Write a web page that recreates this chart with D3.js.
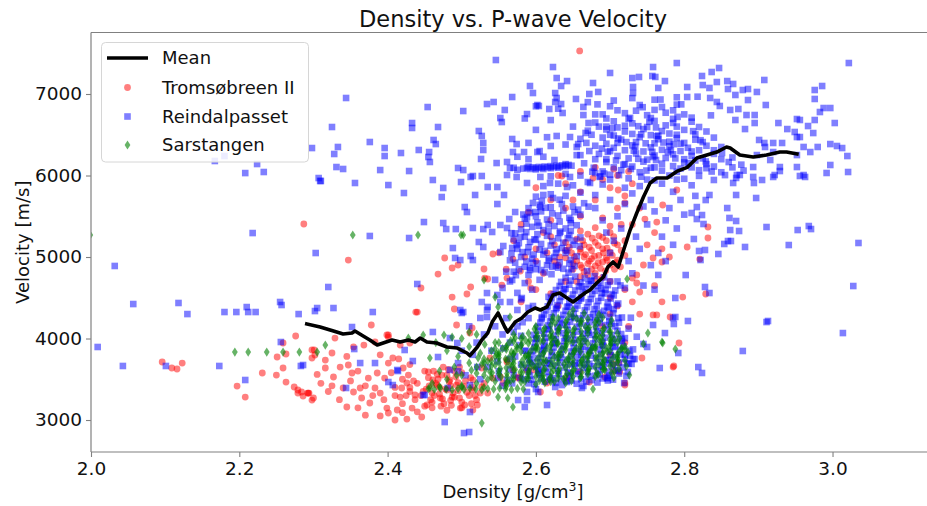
<!DOCTYPE html>
<html><head><meta charset="utf-8">
<script src="https://cdn.jsdelivr.net/npm/d3@7"></script>
<style>body{margin:0;background:#fff}svg{display:block;font-family:"DejaVu Sans",sans-serif}</style>
</head><body>
<script>
// ---------- DATA (density g/cm3, velocity m/s) ----------
const xTicks = [2.0, 2.2, 2.4, 2.6, 2.8, 3.0];
const yTicks = [3000, 4000, 5000, 6000, 7000];
const seriesNames = ["Mean", "Tromsøbreen II", "Reindalpasset", "Sarstangen"];

const meanLine = [[2.291,4178],[2.309,4141],[2.327,4092],[2.34,4055],[2.352,4067],[2.356,4092],[2.367,4031],[2.376,3982],[2.386,3920],[2.394,3945],[2.406,3982],[2.417,3957],[2.428,3982],[2.437,3957],[2.444,4006],[2.453,3957],[2.466,3945],[2.48,3896],[2.494,3883],[2.507,3822],[2.511,3790],[2.521,3896],[2.527,3982],[2.535,4067],[2.541,4202],[2.549,4313],[2.558,4141],[2.562,4080],[2.572,4202],[2.581,4252],[2.589,4325],[2.599,4374],[2.606,4350],[2.615,4387],[2.623,4534],[2.632,4558],[2.642,4497],[2.65,4448],[2.659,4509],[2.666,4558],[2.673,4595],[2.682,4681],[2.691,4755],[2.697,4877],[2.704,4939],[2.711,4877],[2.717,5049],[2.727,5331],[2.736,5540],[2.745,5736],[2.754,5908],[2.763,5970],[2.777,5969],[2.79,6050],[2.804,6100],[2.817,6215],[2.844,6288],[2.857,6350],[2.862,6337],[2.875,6251],[2.893,6227],[2.911,6251],[2.929,6288],[2.938,6288],[2.952,6264]];

const tromsoOutlying = [[2.659,7528],[2.287,5405],[2.347,4963],[2.096,3712],[2.109,3638],[2.116,3626],[2.123,3699],[2.197,3417],[2.208,3282],[2.231,3577],[2.25,3552],[2.251,3773],[2.259,3638],[2.259,3945],[2.263,3810],[2.263,3466],[2.276,4031],[2.274,3405],[2.279,3368],[2.279,3331],[2.286,3294],[2.292,3331],[2.294,3331],[2.298,3245],[2.298,3761],[2.301,3859],
[2.378,4166],[2.329,4006],[2.354,3896],[2.368,3920],[2.383,3957],[2.401,4043],[2.438,4325],[2.468,4791],[2.477,4988],[2.487,4865],[2.495,4902],[2.445,4620],[2.487,4509],[2.49,4362],[2.507,4546],[2.512,4632],[2.531,4742],[2.53,4853],[2.542,5037],[2.535,4730],[2.554,4656],[2.561,4742],[2.579,4828],[2.569,4975],[2.593,4620],[2.514,4129],[2.493,4166],[2.511,4067],
[2.711,5822],[2.72,5663],[2.747,5466],[2.763,5429],[2.771,5638],[2.79,5822],[2.832,5368],[2.832,5233],[2.804,5123],[2.821,4975],[2.77,4939],[2.758,4988],[2.745,4902],[2.736,4779],[2.73,4742],[2.736,4681],[2.74,4571],[2.798,4509],[2.829,4546],[2.763,4289],[2.781,4264],[2.793,3945],
[2.743,3761],[2.786,3663],[2.712,3699],[2.704,3687],[2.705,3601],[2.713,3589],[2.693,3528],[2.72,3454],[2.758,4289],[2.785,3650],[2.72,3429],[2.672,3466],[2.44,4325],[2.399,4043],
[2.538,3761],[2.561,3736],[2.588,3614],[2.576,3515],[2.615,3454],[2.642,3515],[2.659,3589],[2.632,3331],[2.606,3344]];

const tromsoLowCloud = [[2.298,3859],[2.302,3798],[2.316,3736],[2.325,3822],[2.316,3638],[2.327,3528],[2.336,3650],[2.347,3675],[2.352,3577],[2.34,3393],[2.354,3344],[2.363,3393],[2.345,3160],[2.365,3270],[2.376,3209],[2.374,3515],[2.386,3577],[2.383,3393],[2.39,3331],[2.396,3515],[2.401,3699],[2.399,3147],[2.401,3086],[2.413,3123],[2.417,3282],[2.419,3393],[2.426,3454],[2.421,3638],[2.428,3552],[2.426,3012],[2.433,3147],[2.437,3307],[2.446,3037],[2.453,3184],[2.455,3589],[2.46,3331],[2.461,3491],[2.466,3429],[2.471,3270],[2.473,3552],[2.48,3368],[2.487,3282],[2.484,3491],[2.493,3429],[2.498,3147],[2.504,3184],[2.515,3123],[2.521,3184],[2.514,3368],[2.515,3491],[2.527,3405],[2.527,3638],[2.535,3331],[2.542,3515],[2.552,3528],[2.556,3454],[2.569,3614],[2.561,3712],[2.576,3528],[2.596,3614],[2.407,3761],[2.401,4018],[2.417,3920],[2.43,3945],[2.293,3331],[2.30,3270],[2.284,3344],
[2.31,3450],[2.32,3350],[2.335,3250],[2.35,3480],[2.36,3600],[2.37,3420],[2.38,3300],[2.395,3250],[2.405,3580],[2.41,3400],[2.42,3200],[2.43,3350],[2.44,3100],[2.435,3480],[2.36,3150],[2.37,3060],[2.39,3050],[2.41,3000],[2.42,3090],[2.345,3780],[2.39,3800],[2.415,3750],[2.43,3680],[2.325,3420],[2.305,3560],
[2.445,3300],[2.452,3380],[2.458,3250],[2.465,3450],[2.47,3320],[2.476,3200],[2.48,3550],[2.485,3420],[2.49,3280],[2.495,3360],[2.5,3220],[2.505,3480],[2.51,3300],[2.455,3520],[2.462,3600],[2.475,3650],[2.49,3600],[2.5,3580],[2.515,3400],[2.52,3250],[2.46,3150],[2.48,3120],[2.47,3400],[2.495,3460],[2.485,3240],[2.44,3450],[2.45,3170],
[2.448,3350],[2.456,3420],[2.463,3300],[2.468,3500],[2.474,3260],[2.478,3380],[2.483,3470],[2.488,3330],[2.492,3530],[2.497,3270],[2.503,3410],[2.507,3340],[2.512,3520],[2.518,3300],[2.46,3220],[2.472,3170],[2.486,3180],[2.5,3150],[2.513,3200],[2.525,3330],[2.53,3450],[2.45,3600],[2.467,3560],[2.482,3620],[2.497,3650],[2.43,3400],[2.437,3250],[2.425,3300],[2.42,3500],[2.41,3300]];

const tromsoCluster = [[2.655,4950],[2.665,5000],[2.675,4980],[2.685,5020],[2.695,4990],[2.67,4920],[2.68,4890],[2.69,4940],[2.66,5060],[2.675,5080],[2.69,5100],[2.70,5060],[2.665,5150],[2.68,5180],[2.695,5200],[2.71,5150],[2.65,4850],[2.665,4820],[2.7,4900],[2.71,4960],[2.72,5020],[2.685,5260],[2.67,5280],[2.7,5300],[2.645,5120],[2.64,4990],[2.63,4900],[2.655,5220],[2.72,5200],[2.715,5400],[2.68,4800],[2.69,4750],[2.7,4700],[2.66,4760],[2.64,4700],
[2.66,4900],[2.672,4950],[2.684,4930],[2.696,4960],[2.708,4930],[2.652,5000],[2.667,5030],[2.679,5010],[2.691,5050],[2.703,5020],[2.715,5080],[2.66,5100],[2.672,5120],[2.684,5140],[2.696,5110],[2.706,5170],[2.676,5230],[2.69,5240],[2.663,5200],[2.705,5250],[2.648,5050],[2.687,4860],[2.675,4850],[2.662,4870],[2.694,4830],[2.706,4850],[2.714,4880],[2.65,4920],[2.64,5080],[2.632,5000],[2.625,4950],[2.66,5320],[2.68,5360],[2.7,5380],[2.64,5180],[2.625,5150],[2.615,5050],[2.67,4780],[2.682,4730],[2.655,4700],
[2.6,5100],[2.61,5300],[2.62,5450],[2.59,5550],[2.62,5700],[2.64,5600],[2.66,5500],[2.68,5700],[2.7,5850],[2.69,5950],[2.71,6000],[2.73,5900],[2.72,5750],[2.74,5600],[2.66,5800],[2.64,5900],[2.6,5850],[2.63,6000],[2.58,5400],[2.57,5200],[2.585,5000],[2.6,4950],[2.61,4800],[2.59,4700],[2.56,4850],[2.55,5050],[2.6,4600],[2.62,4550],[2.58,4450],[2.63,4400],[2.72,4600],[2.73,4450],[2.71,4400],[2.74,4300],[2.725,4150],[2.7,4500],[2.75,5150],[2.76,5300],[2.73,5400],[2.77,5100],[2.78,5000],[2.76,4650],[2.77,4450],[2.66,6050],[2.68,6100],[2.705,6080],[2.725,6050],[2.65,5700],[2.62,5250],[2.69,5480],[2.71,5600],[2.7,4300],[2.69,4150],[2.72,3950],[2.7,3800],[2.635,5994],[2.677,5969]];

const reinOutlying = [[2.009,3896],[2.043,3663],[2.101,3663],[2.173,3663],[2.208,3491],[2.256,3957],[2.283,3663],
[2.032,4890],[2.057,4423],[2.118,4436],[2.13,4300],[2.18,4325],[2.196,4325],[2.21,4386],[2.212,4325],[2.222,4325],[2.255,4448],[2.257,4411],[2.28,4300],[2.302,4337],[2.305,4374],
[2.218,5294],[2.303,5049],[2.208,6030],[2.233,6043],[2.167,6178],[2.18,6239],[2.224,6141],[2.298,6337],[2.307,5969],[2.309,5933],
[2.546,7417],[2.344,6951],[2.325,6595],[2.333,6350],[2.328,6264],[2.331,6104],[2.34,6080],[2.376,6411],[2.396,6337],[2.396,6239],[2.39,6067],[2.418,6276],[2.429,6055],[2.433,6644],[2.433,6583],[2.442,6313],[2.454,6840],[2.456,6288],[2.457,6166],[2.455,6227],[2.462,6436],[2.465,6386],[2.468,6595],[2.502,6791],[2.495,6092],[2.502,6067],[2.523,6546],[2.527,6485],[2.529,6399],[2.529,6313],[2.526,6203],[2.534,6877],[2.543,6902],[2.552,6705],[2.554,6656],[2.558,6804],[2.568,6963],[2.588,6754],[2.592,7098],[2.596,7012],[2.602,6865],[2.604,6853],[2.618,6816],[2.623,7331],[2.628,7196],[2.642,7159],[2.634,7098],[2.626,7012],[2.628,6951],[2.626,6902],[2.634,6877],[2.636,6767],[2.654,6939],[2.664,6841],[2.664,6742],[2.671,6644],[2.677,7135],[2.672,7000],[2.684,7025],[2.7,7258],
[2.568,6448],[2.574,6386],[2.569,6288],[2.584,6288],[2.602,6288],[2.62,6362],[2.628,6485],[2.646,6472],[2.657,6386],[2.547,6153],[2.561,6166],[2.565,6092],[2.515,5994],[2.527,5994],
[2.73,7196],[2.731,7086],[2.739,7209],[2.758,7331],[2.757,7221],[2.761,7209],[2.774,7159],[2.765,7074],[2.79,7380],[2.804,7086],[2.804,6963],[2.824,7221],[2.837,7270],[2.847,7319],[2.825,7110],[2.844,7147],[2.858,7159],[2.866,7123],[2.834,7074],[2.835,6951],[2.844,6902],[2.848,6853],[2.859,7061],[2.869,6988],[2.879,7049],[2.886,7061],[2.886,6926],[2.898,7025],[2.908,7172],[2.91,6865],[2.895,6742],[2.884,6742],[2.873,6816],[2.862,6804],[2.869,6681],[2.882,6570],[2.895,6644],[2.901,6436],[2.908,6399],[2.92,6399],[2.927,6644],[2.939,6570],[2.952,6693],[2.956,6681],[2.949,6534],[2.952,6472],[2.956,6472],[2.967,6607],[2.974,6521],[2.976,6681],[2.983,6779],[2.988,6828],[2.997,6828],[3.003,6644],[2.976,7049],[2.986,7098],[2.976,6939],[3.022,7380],[2.97,6288],[2.98,6350],[2.997,6386],[3.006,6362],[3.013,6337],[3.02,6239],[2.997,6129],[2.992,6031],[3.021,6043],[2.961,6350],[2.952,6251],[2.92,6288],[2.932,6399],[2.929,6104],[2.952,6104],[2.961,6006],[2.922,6006],[2.893,6104],[2.898,6251],[2.909,6350],[2.916,6190],
[2.871,6006],[2.875,6006],[2.893,5982],[2.894,5908],[2.905,5945],[2.92,5982],[2.929,6055],[2.956,5994],[2.963,5982],[2.866,5908],[2.87,5761],[2.897,5724],[2.911,5368],[2.953,5331],[2.968,5380],[2.971,5343],[2.941,5147],[3.035,5172],[3.028,4644],[3.014,4067],[2.911,4202],[2.913,4215],[2.858,5601],[2.861,5479],[2.87,5442],[2.862,5331],[2.874,5319],[2.859,5196],[2.863,5196],[2.854,5160],[2.882,5123],[2.846,5037],[2.834,5761],[2.829,5699],[2.817,5613],[2.81,5540],[2.824,5515],[2.817,5466],[2.826,5405],[2.813,5221],[2.82,5074],[2.828,5086],[2.822,4963],[2.802,4779],[2.828,4632],[2.834,4558],[2.788,4497],[2.788,4264],[2.805,4215],[2.786,4178],[2.774,4067],
[2.879,3847],[2.767,3638],[2.819,3650],[2.824,3577],[2.75,3896],[2.792,3822],[2.745,3933],[2.733,3748],[2.723,3699],[2.719,3454],[2.697,3515],
[2.477,2975],[2.503,2840],[2.51,2853],[2.511,3098],[2.585,3160],[2.588,3245],[2.615,3184],[2.576,3245],[2.635,3429],[2.662,3393],[2.664,3417],[2.696,3515],[2.731,3748],[2.758,4166],[2.785,4252],[2.461,4080],[2.423,3859],[2.413,3614],[2.401,3466],[2.407,3429],[2.434,3724],[2.448,3307],[2.481,3393],[2.498,4350],[2.535,4387],[2.534,4264],[2.525,4252],[2.484,4006],[2.494,3945],[2.468,3773],[2.484,3614],[2.495,3699],[2.521,3650],[2.511,3429],[2.549,3515],[2.561,3491],[2.579,3515],[2.588,3344],[2.603,3344],[2.626,3405],[2.642,3466],
[2.286,3675],[2.355,3871],[2.363,3699],[2.383,3699],[2.414,3601],[2.344,3393],[2.45,3307],
[2.31,5933],[2.356,5908],[2.401,5883],[2.422,5785],[2.461,5945],[2.475,5847],[2.473,5736],[2.499,5920],[2.512,5982],[2.518,5761],[2.535,5859],[2.548,5859],[2.557,5761],[2.548,5650],[2.504,5613],[2.507,5552],[2.449,5429],[2.376,5258],[2.429,5233],[2.475,5417],[2.479,5343],[2.492,5343],[2.515,5356],[2.529,5343],[2.535,5393],[2.552,5393],[2.541,5307],[2.523,5184],[2.529,5123],[2.488,5110],[2.491,4988],[2.498,4963],[2.512,5012],[2.515,4963],[2.32,4632],[2.44,4669],[2.327,4374],[2.38,4325],[2.352,4141],[2.5,4313],[2.502,4325],[2.534,4350],[2.534,4558],[2.548,4534],[2.552,4448],[2.565,4448],[2.527,4448],[2.581,4497],[2.592,4840],[2.596,4399],[2.568,4718],[2.556,5135],[2.552,5061],[2.568,5110],[2.574,5147],[2.579,5245],[2.561,5356],[2.564,5466],[2.572,5552],[2.588,5491],[2.599,5552],[2.596,5663],[2.606,5613],[2.61,5761],[2.623,5724],[2.619,5908],[2.606,5982],[2.574,5982],[2.561,6006],[2.588,5908],[2.642,5859],[2.646,5982],[2.673,5908],[2.686,5982],
[2.505,3550],[2.515,3800],[2.525,3500],[2.535,3650],[2.54,3850],[2.55,3600],[2.555,3420],[2.565,3750],[2.57,3550],[2.58,3680],[2.585,3850],[2.59,3450],[2.6,3380],[2.605,3580],[2.615,3700],[2.52,3950],[2.53,4050],[2.545,4150],[2.555,4050],[2.565,3950],[2.575,4150],[2.59,4250],[2.51,4150],[2.495,3600],[2.5,3850]];

const reinCore = [[2.598,3440],[2.612,3470],[2.627,3455],[2.641,3480],[2.655,3445],[2.668,3470],[2.683,3460],[2.697,3485],
[2.592,3545],[2.604,3560],[2.618,3530],[2.631,3570],[2.645,3540],[2.657,3565],[2.671,3535],[2.686,3560],[2.699,3545],[2.712,3570],
[2.587,3640],[2.6,3660],[2.613,3635],[2.626,3665],[2.639,3645],[2.652,3670],[2.665,3640],[2.678,3660],[2.691,3650],[2.704,3675],[2.717,3645],
[2.591,3745],[2.603,3760],[2.617,3735],[2.629,3765],[2.642,3740],[2.656,3770],[2.668,3745],[2.681,3760],[2.694,3735],[2.707,3770],[2.72,3750],
[2.596,3845],[2.609,3860],[2.622,3835],[2.635,3865],[2.648,3840],[2.661,3870],[2.673,3850],[2.686,3865],[2.7,3840],[2.713,3860],[2.726,3850],
[2.599,3945],[2.612,3960],[2.625,3940],[2.638,3970],[2.651,3945],[2.664,3965],[2.677,3940],[2.69,3960],[2.703,3950],[2.716,3970],
[2.597,4045],[2.611,4060],[2.624,4035],[2.637,4065],[2.65,4040],[2.663,4060],[2.676,4045],[2.689,4065],[2.702,4040],[2.715,4055],
[2.603,4145],[2.616,4160],[2.629,4140],[2.642,4165],[2.655,4145],[2.668,4160],[2.681,4140],[2.694,4165],[2.707,4150],
[2.608,4245],[2.621,4260],[2.634,4240],[2.647,4265],[2.66,4245],[2.673,4260],[2.686,4240],[2.699,4265],[2.711,4250],
[2.614,4345],[2.627,4360],[2.64,4340],[2.653,4365],[2.666,4345],[2.679,4360],[2.692,4340],[2.705,4360],
[2.619,4445],[2.632,4460],[2.645,4440],[2.658,4465],[2.671,4445],[2.684,4460],[2.697,4445],
[2.624,4545],[2.637,4560],[2.65,4540],[2.663,4565],[2.676,4545],[2.689,4560],[2.702,4545],
[2.632,4645],[2.645,4660],[2.658,4640],[2.671,4665],[2.684,4645],[2.697,4655],
[2.64,4745],[2.653,4760],[2.666,4740],[2.679,4765],[2.692,4750],
[2.565,3620],[2.572,3780],[2.578,3920],[2.57,4080],[2.582,4200],[2.575,4350],[2.584,3500],[2.568,3450],[2.58,4480],[2.556,3880],[2.548,3720],[2.56,4250],
[2.555,4620],[2.565,4700],[2.575,4560],[2.585,4680],[2.595,4600],[2.605,4720],[2.56,4820],[2.59,4780],[2.545,4720],
[2.594,3495],[2.607,3510],[2.62,3490],[2.634,3505],[2.648,3485],[2.661,3500],[2.675,3490],[2.69,3510],[2.704,3495],
[2.59,3595],[2.603,3610],[2.616,3590],[2.63,3605],[2.643,3585],[2.657,3600],[2.67,3590],[2.684,3610],[2.698,3595],[2.711,3605],[2.724,3590],
[2.592,3695],[2.606,3710],[2.619,3690],[2.633,3705],[2.646,3685],[2.659,3700],[2.672,3690],[2.686,3710],[2.699,3695],[2.712,3705],[2.725,3690],
[2.594,3795],[2.608,3810],[2.621,3790],[2.634,3805],[2.648,3785],[2.661,3800],[2.674,3790],[2.688,3810],[2.701,3795],[2.714,3805],[2.727,3790],
[2.598,3895],[2.611,3910],[2.624,3890],[2.637,3905],[2.651,3885],[2.664,3900],[2.677,3890],[2.691,3910],[2.704,3895],[2.718,3905],
[2.6,3995],[2.613,4010],[2.627,3990],[2.64,4005],[2.653,3985],[2.667,4000],[2.68,3990],[2.693,4010],[2.707,3995],[2.72,4005],
[2.603,4095],[2.616,4110],[2.63,4090],[2.643,4105],[2.656,4085],[2.67,4100],[2.683,4090],[2.697,4110],[2.71,4095],
[2.606,4195],[2.619,4210],[2.632,4190],[2.646,4205],[2.659,4185],[2.672,4200],[2.686,4190],[2.699,4210],[2.712,4195],
[2.611,4295],[2.624,4310],[2.637,4290],[2.651,4305],[2.664,4285],[2.677,4300],[2.69,4290],[2.704,4310],
[2.616,4395],[2.629,4410],[2.642,4390],[2.656,4405],[2.669,4385],[2.682,4400],[2.696,4390],[2.709,4410],
[2.621,4495],[2.634,4510],[2.648,4490],[2.661,4505],[2.674,4485],[2.688,4500],[2.701,4490],
[2.627,4595],[2.64,4610],[2.653,4590],[2.667,4605],[2.68,4585],[2.694,4600],[2.707,4590],
[2.634,4695],[2.647,4710],[2.66,4690],[2.674,4705],[2.687,4685],[2.7,4700],
[2.604,3627],[2.611,3881],[2.618,4119],[2.623,3512],[2.628,4377],[2.633,3769],[2.638,4603],[2.642,3998],[2.647,3571],[2.652,4251],[2.657,3846],[2.661,4489],[2.666,3679],[2.671,4072],[2.675,4711],[2.68,3543],[2.684,4318],[2.689,3922],[2.693,4552],[2.698,3738],[2.702,4183],[2.707,3614],[2.711,4429],[2.716,3988],[2.72,3801],[2.725,4121],[2.729,3688],[2.608,4262],[2.617,4511],[2.626,3947],[2.635,4168],[2.644,4391],[2.653,3693],[2.662,4641],[2.671,3857],[2.68,4224],[2.689,3662],[2.698,4377],[2.707,3903],[2.716,4258],[2.595,3713],[2.601,4003],[2.587,3847],[2.58,4033],[2.59,4376],[2.612,4812],[2.627,4893],[2.648,4851],[2.669,4827],[2.688,4612],[2.705,4529],[2.714,4651],[2.722,3541],[2.731,3867],[2.736,4022],[2.728,4255]];

const reinMid = [[2.57,4820],[2.585,4880],[2.6,4850],[2.615,4900],[2.63,4870],[2.645,4920],
[2.565,4960],[2.58,5000],[2.595,4980],[2.61,5030],[2.625,5000],[2.64,5050],[2.655,5010],
[2.575,5100],[2.59,5120],[2.605,5090],[2.62,5140],[2.635,5110],[2.65,5150],
[2.57,5220],[2.585,5250],[2.6,5210],[2.615,5260],[2.63,5230],[2.645,5270],[2.66,5240],
[2.58,5340],[2.595,5370],[2.61,5330],[2.625,5380],[2.64,5350],[2.655,5390],
[2.585,5470],[2.6,5500],[2.615,5460],[2.63,5510],[2.645,5480],[2.66,5520],
[2.59,5600],[2.605,5640],[2.62,5610],[2.635,5650],[2.65,5620],[2.665,5660],
[2.6,5740],[2.62,5770],[2.64,5750],[2.66,5790],[2.68,5760],
[2.61,5870],[2.63,5900],[2.65,5880],[2.67,5920],[2.69,5890],
[2.62,5990],[2.64,6020],[2.66,6000],[2.68,6030],[2.7,6010],
[2.577,4850],[2.592,4865],[2.607,4840],[2.622,4880],[2.637,4855],[2.652,4890],
[2.572,4930],[2.587,4945],[2.602,4920],[2.617,4955],[2.632,4935],[2.647,4965],
[2.567,5040],[2.582,5060],[2.597,5030],[2.612,5075],[2.627,5050],[2.642,5080],
[2.577,5170],[2.592,5185],[2.607,5160],[2.622,5195],[2.637,5175],[2.652,5200],
[2.572,5290],[2.587,5305],[2.602,5280],[2.617,5315],[2.632,5295],[2.647,5320],
[2.587,5410],[2.602,5425],[2.617,5400],[2.632,5435],[2.647,5415],
[2.592,5540],[2.607,5560],[2.622,5535],[2.637,5570],[2.652,5550],
[2.573,4777],[2.589,5061],[2.604,5383],[2.618,4983],[2.633,5312],[2.647,5455],[2.659,5132],[2.583,5521],[2.598,5217],[2.613,5604],[2.628,5094],[2.643,5231],[2.657,5581],[2.567,5293],[2.596,4928],[2.621,4789],[2.644,4808],[2.608,5687],[2.632,5703],[2.671,5618],
[2.705,5200],[2.715,5350],[2.71,5500],[2.72,5650],[2.73,5780],[2.74,5870],[2.745,5620],[2.755,5700],[2.76,5560],[2.75,5400],[2.735,5250],[2.74,5100],[2.725,4950],[2.73,4800],[2.745,4650],[2.755,4900],[2.765,5050],[2.77,5250],[2.775,5450],[2.78,5600],[2.785,5800],[2.795,5700],[2.8,5520],[2.79,5350],[2.785,5150],[2.775,4950],[2.765,4780],[2.76,4600],[2.72,4620],[2.71,4700],[2.7,5050],[2.695,5300],[2.69,5450],[2.68,5600],[2.7,5700],[2.72,5850],[2.75,5950],[2.77,5900],[2.79,5950],[2.81,5880],[2.815,5750]];

const reinUpper = [[2.7,5950],[2.725,5965],[2.76,5940],[2.8,5960],[2.84,5945],[2.87,5970],
[2.69,6050],[2.715,6065],[2.74,6040],[2.77,6060],[2.79,6045],[2.82,6065],[2.85,6040],[2.88,6060],
[2.665,6150],[2.695,6165],[2.72,6140],[2.745,6170],[2.77,6145],[2.8,6160],[2.83,6140],[2.86,6165],
[2.66,6250],[2.685,6265],[2.71,6240],[2.735,6270],[2.76,6245],[2.785,6260],[2.81,6240],[2.84,6265],
[2.655,6350],[2.68,6365],[2.705,6340],[2.73,6370],[2.755,6345],[2.78,6360],[2.805,6340],[2.83,6365],[2.85,6350],
[2.66,6450],[2.69,6465],[2.715,6440],[2.74,6470],[2.765,6445],[2.79,6460],[2.815,6440],[2.84,6465],
[2.67,6550],[2.695,6565],[2.72,6540],[2.745,6570],[2.77,6545],[2.8,6560],[2.83,6540],
[2.68,6650],[2.705,6665],[2.73,6640],[2.76,6670],[2.785,6645],[2.81,6660],
[2.69,6750],[2.72,6765],[2.75,6740],[2.775,6770],[2.8,6750],
[2.7,6850],[2.74,6865],[2.77,6840],[2.79,6870],
[2.705,6100],[2.73,6110],[2.755,6095],[2.785,6115],[2.81,6100],[2.84,6110],[2.695,6200],[2.725,6210],[2.75,6195],[2.775,6215],[2.8,6200],[2.825,6210],[2.7,6300],[2.72,6310],[2.745,6295],[2.77,6315],[2.795,6300],[2.82,6310],[2.71,6400],[2.735,6410],[2.76,6395],[2.78,6415],[2.8,6400],[2.7,6500],[2.73,6510],[2.755,6495],[2.78,6515],[2.695,6600],[2.72,6610],[2.75,6595],[2.775,6615],
[2.687,5990],[2.712,6005],[2.742,5985],[2.78,6000],[2.82,5995],[2.855,6005],
[2.678,6095],[2.728,6080],[2.76,6100],[2.795,6085],[2.83,6090],[2.865,6100],
[2.68,6200],[2.708,6185],[2.738,6205],[2.762,6190],[2.788,6210],[2.815,6185],[2.85,6200],
[2.672,6300],[2.697,6290],[2.732,6305],[2.757,6290],[2.782,6310],[2.81,6295],[2.84,6310],
[2.668,6400],[2.695,6390],[2.722,6410],[2.748,6395],[2.772,6405],[2.795,6390],[2.825,6410],
[2.675,6500],[2.705,6490],[2.742,6505],[2.765,6490],[2.79,6500],[2.815,6505],
[2.685,6600],[2.71,6590],[2.738,6605],[2.762,6590],[2.79,6600],[2.82,6595],
[2.695,6700],[2.725,6695],[2.755,6705],[2.785,6695],[2.81,6710],
[2.71,6800],[2.735,6795],[2.76,6805],[2.785,6800],
[2.705,6920],[2.73,6950],[2.76,6930],[2.79,6960],
[2.692,6024],[2.718,6133],[2.734,6352],[2.749,6061],[2.763,6481],[2.778,6287],[2.791,6719],[2.806,6151],[2.822,6433],[2.837,6049],[2.851,6277],[2.703,6581],[2.727,6707],[2.744,6838],[2.768,6932],[2.796,6873],[2.812,6544],[2.836,6738],[2.689,6331],[2.711,6455],[2.758,6227],[2.786,6385],[2.829,6172],[2.865,6221],[2.877,6133],[2.676,6047],[2.667,6522],[2.683,6873],[2.731,7012],[2.753,6659],[2.818,6967],
[2.575,6230],[2.59,6400],[2.6,6560],[2.605,6300],[2.615,6470],[2.62,6680],[2.63,6820],[2.64,6380],[2.65,6600],[2.655,6250],[2.585,6700],[2.6,6850],[2.67,6900],[2.68,6750],[2.59,6200],[2.61,6230],[2.625,6190],
[2.583,6085],[2.588,6095],[2.592,6080],[2.596,6100],[2.6,6090],[2.604,6105],[2.608,6095],[2.612,6110],[2.616,6100],[2.62,6115],[2.624,6105],[2.628,6120],[2.632,6110],[2.636,6125],[2.64,6115],[2.644,6130],[2.59,6110],[2.6,6075],[2.61,6080],[2.62,6090],[2.63,6095],[2.64,6140],[2.648,6120],[2.575,6070],[2.57,6095]];

const sarOutlying = [[1.999,5270],[2.353,5270],[2.441,5270],[2.499,5270],[2.502,5270],[2.194,3834],[2.212,3834],[2.237,3834],[2.259,3834],[2.281,3834],[2.305,3834],[2.316,3920],[2.428,4006],[2.448,4043],[2.476,4043],[2.487,4018],[2.51,4080],[2.545,4509],[2.549,4387],[2.565,4264],[2.623,4264],[2.65,4350],[2.723,4730],[2.53,4718],[2.527,2963],[2.569,3160],[2.549,3282],[2.562,3270],[2.677,3380],[2.693,3614],[2.726,3552],[2.751,4067],[2.77,3957],[2.771,3945],[2.788,3871],[2.457,3761],[2.493,3552],[2.457,3393],[2.724,3834],[2.745,3933],[2.713,4006],[2.693,3736],
[2.465,3950],[2.48,3850],[2.495,3780],[2.51,3900],[2.525,3820],[2.535,3720],[2.545,3950],[2.5,4000],[2.52,4050],
[2.48,3500],[2.5,3550],[2.49,3650],[2.51,3700],[2.47,3600],[2.46,3450],[2.52,3450],[2.5,3420]];

const sarStreak = [[2.455,3385],[2.463,3375],[2.471,3390],[2.479,3380],[2.487,3370],[2.495,3385],[2.503,3375],[2.511,3390],[2.519,3380],[2.527,3370],[2.535,3385],[2.543,3378],[2.551,3392],[2.559,3382],[2.567,3372],[2.575,3388],[2.583,3380],[2.47,3410],[2.5,3405],[2.53,3400],[2.56,3410]];

const sarBand = [[2.56,3450],[2.58,3465],[2.6,3440],[2.62,3470],[2.64,3455],
[2.53,3550],[2.55,3565],[2.57,3540],[2.59,3570],[2.61,3545],[2.63,3560],[2.65,3535],[2.67,3565],
[2.52,3650],[2.54,3665],[2.56,3640],[2.58,3670],[2.6,3645],[2.62,3660],[2.64,3640],[2.66,3670],[2.68,3650],[2.7,3660],
[2.53,3750],[2.55,3765],[2.57,3740],[2.59,3770],[2.61,3745],[2.63,3760],[2.65,3740],[2.67,3770],[2.69,3750],[2.71,3765],
[2.54,3850],[2.56,3865],[2.58,3840],[2.6,3870],[2.62,3845],[2.64,3860],[2.66,3840],[2.68,3870],[2.7,3850],[2.72,3860],
[2.55,3950],[2.57,3965],[2.59,3940],[2.61,3970],[2.63,3945],[2.65,3960],[2.67,3940],[2.69,3970],[2.71,3950],
[2.57,4050],[2.59,4065],[2.61,4040],[2.63,4070],[2.65,4045],[2.67,4060],[2.69,4040],[2.71,4065],
[2.6,4150],[2.62,4165],[2.64,4140],[2.66,4170],[2.68,4145],[2.7,4160],
[2.63,4250],[2.65,4265],[2.67,4240],[2.69,4260],
[2.57,3500],[2.59,3510],[2.61,3495],[2.63,3515],[2.55,3600],[2.57,3610],[2.59,3595],[2.61,3615],[2.63,3600],[2.65,3610],[2.67,3600],[2.69,3620],
[2.53,3700],[2.55,3710],[2.57,3695],[2.59,3715],[2.61,3700],[2.63,3710],[2.65,3695],[2.67,3715],[2.69,3700],[2.71,3710],
[2.55,3800],[2.57,3810],[2.59,3795],[2.61,3815],[2.63,3800],[2.65,3810],[2.67,3795],[2.69,3815],[2.71,3800],
[2.56,3900],[2.58,3910],[2.6,3895],[2.62,3915],[2.64,3900],[2.66,3910],[2.68,3895],[2.7,3915],[2.72,3900],
[2.58,4000],[2.6,4010],[2.62,3995],[2.64,4015],[2.66,4000],[2.68,4010],[2.7,3995],
[2.61,4100],[2.63,4110],[2.65,4095],[2.67,4115],[2.69,4100],
[2.64,4200],[2.66,4210],[2.68,4195],
[2.545,3475],[2.566,3480],[2.585,3470],[2.605,3485],[2.625,3475],[2.648,3480],
[2.54,3525],[2.561,3530],[2.58,3520],[2.6,3535],[2.62,3525],[2.64,3530],[2.66,3520],[2.68,3535],
[2.52,3575],[2.541,3580],[2.561,3570],[2.582,3585],[2.602,3575],[2.621,3580],[2.642,3570],[2.662,3585],[2.682,3575],[2.702,3580],
[2.532,3625],[2.552,3630],[2.572,3620],[2.592,3635],[2.612,3625],[2.632,3630],[2.652,3620],[2.672,3635],[2.692,3625],[2.712,3630],
[2.545,3675],[2.565,3680],[2.585,3670],[2.605,3685],[2.625,3675],[2.645,3680],[2.665,3670],[2.685,3685],[2.705,3675],
[2.54,3725],[2.561,3730],[2.581,3720],[2.601,3735],[2.621,3725],[2.641,3730],[2.661,3720],[2.681,3735],[2.701,3725],[2.72,3730],
[2.545,3775],[2.565,3780],[2.585,3770],[2.605,3785],[2.625,3775],[2.645,3780],[2.665,3770],[2.685,3785],[2.705,3775],
[2.55,3825],[2.571,3830],[2.591,3820],[2.611,3835],[2.631,3825],[2.651,3830],[2.671,3820],[2.691,3835],[2.711,3825],
[2.555,3875],[2.575,3880],[2.595,3870],[2.615,3885],[2.635,3875],[2.655,3880],[2.675,3870],[2.695,3885],[2.715,3875],
[2.562,3925],[2.581,3930],[2.601,3920],[2.621,3935],[2.641,3925],[2.661,3930],[2.681,3920],[2.701,3935],
[2.566,3975],[2.586,3980],[2.606,3970],[2.626,3985],[2.646,3975],[2.666,3980],[2.686,3970],[2.706,3985],
[2.582,4025],[2.602,4030],[2.622,4020],[2.642,4035],[2.662,4025],[2.682,4030],[2.702,4020],
[2.601,4075],[2.621,4080],[2.641,4070],[2.661,4085],[2.681,4075],[2.701,4080],
[2.612,4125],[2.632,4130],[2.652,4120],[2.672,4135],[2.692,4125],
[2.622,4225],[2.642,4230],[2.662,4220],[2.682,4235],[2.702,4225],
[2.645,4300],[2.665,4310],[2.685,4295],
[2.513,3612],[2.527,3688],[2.538,3593],[2.547,3812],[2.553,3531],[2.559,3748],[2.568,3667],[2.574,3902],[2.579,3588],[2.586,3791],[2.592,3983],[2.597,3659],[2.603,3871],[2.608,3547],[2.614,3724],[2.619,4032],[2.624,3612],[2.629,3933],[2.634,3806],[2.638,3688],[2.643,4087],[2.648,3572],[2.652,3855],[2.657,3977],[2.662,3734],[2.667,4143],[2.671,3628],[2.676,3896],[2.681,3779],[2.686,4018],[2.691,3681],[2.696,3842],[2.701,3963],[2.706,3597],[2.711,3737],[2.716,3881],[2.722,3662],[2.535,3497],[2.562,3462],[2.588,3518],[2.612,3456],[2.637,3503],[2.661,3531],[2.684,3559],[2.705,3520],[2.545,3875],[2.572,4005],[2.598,4118],[2.626,4189],[2.655,4243],[2.685,4203],[2.522,3763],[2.531,3927],[2.618,3503],[2.644,3743],[2.673,3822],[2.689,3918],[2.593,3706],[2.567,3836],[2.641,3951],[2.699,4083]];

const tromso = tromsoOutlying.concat(tromsoLowCloud, tromsoCluster);
const rein = reinOutlying.concat(reinCore, reinMid, reinUpper);
const sar = sarOutlying.concat(sarStreak, sarBand);

// ---------- DRAW ----------
const W = 927, H = 506;
const L = 91, R = 935, T = 32.5, B = 452;
const svg = d3.select("body").append("svg").attr("width", W).attr("height", H);
const x = d3.scaleLinear().domain([2.0, 3.1382]).range([L, R]);
const y = d3.scaleLinear().domain([2607.6, 7754.6]).range([B, T]);

svg.append("defs").append("clipPath").attr("id", "clip")
  .append("rect").attr("x", L).attr("y", T).attr("width", R - L).attr("height", B - T);
const plot = svg.append("g").attr("clip-path", "url(#clip)");

plot.append("g").selectAll("circle").data(tromso).join("circle")
  .attr("cx", d => x(d[0])).attr("cy", d => y(d[1])).attr("r", 3.4)
  .attr("fill", "red").attr("fill-opacity", 0.5);

plot.append("g").selectAll("rect").data(rein).join("rect")
  .attr("x", d => x(d[0]) - 3.3).attr("y", d => y(d[1]) - 3.3)
  .attr("width", 6.6).attr("height", 6.6)
  .attr("fill", "blue").attr("fill-opacity", 0.5);

const diamond = "M0,-4.6L2.9,0L0,4.6L-2.9,0Z";
plot.append("g").selectAll("path").data(sar).join("path")
  .attr("transform", d => `translate(${x(d[0])},${y(d[1])})`)
  .attr("d", diamond).attr("fill", "green").attr("fill-opacity", 0.6);

plot.append("path").datum(meanLine)
  .attr("d", d3.line().x(d => x(d[0])).y(d => y(d[1])))
  .attr("fill", "none").attr("stroke", "black").attr("stroke-width", 3.6)
  .attr("stroke-linejoin", "round").attr("stroke-linecap", "square");

// spines
const spine = "#808080";
svg.append("line").attr("x1", L).attr("x2", R).attr("y1", T).attr("y2", T).attr("stroke", spine).attr("stroke-width", 1.2);
svg.append("line").attr("x1", L).attr("x2", L).attr("y1", T).attr("y2", B).attr("stroke", spine).attr("stroke-width", 1.2);
svg.append("line").attr("x1", L).attr("x2", R).attr("y1", B).attr("y2", B).attr("stroke", spine).attr("stroke-width", 1.2);

// axes
const xa = svg.append("g").attr("transform", `translate(0,${B})`)
  .call(d3.axisBottom(x).tickValues(xTicks).tickSize(5).tickPadding(5).tickFormat(d3.format(".1f")));
const ya = svg.append("g").attr("transform", `translate(${L},0)`)
  .call(d3.axisLeft(y).tickValues(yTicks).tickSize(5).tickPadding(4).tickFormat(d3.format("d")));
[xa, ya].forEach(a => {
  a.select(".domain").remove();
  a.selectAll(".tick line").attr("stroke", spine).attr("stroke-width", 1.1);
  a.selectAll(".tick text").attr("fill", "#111").style("font-size", "18.5px").style("font-family", "DejaVu Sans");
});

// labels
svg.append("text").attr("x", 513).attr("y", 27).attr("text-anchor", "middle")
  .style("font-size", "22.5px").attr("fill", "#111").text("Density vs. P-wave Velocity");
const xl = svg.append("text").attr("x", 513).attr("y", 498).attr("text-anchor", "middle")
  .style("font-size", "18px").attr("fill", "#111");
xl.append("tspan").text("Density [g/cm");
xl.append("tspan").attr("dy", -7).style("font-size", "12.5px").text("3");
xl.append("tspan").attr("dy", 7).text("]");
svg.append("text").attr("transform", `translate(29,${(T + B) / 2}) rotate(-90)`)
  .attr("text-anchor", "middle").style("font-size", "18px").attr("fill", "#111").text("Velocity [m/s]");

// legend
const lg = svg.append("g");
lg.append("rect").attr("x", 101.5).attr("y", 42.5).attr("width", 207).attr("height", 119.5)
  .attr("rx", 4).attr("fill", "white").attr("fill-opacity", 0.85).attr("stroke", "#d6d6d6");
const rows = [58, 87.5, 116.5, 145];
lg.append("line").attr("x1", 107).attr("x2", 148).attr("y1", rows[0]).attr("y2", rows[0])
  .attr("stroke", "black").attr("stroke-width", 3.6);
lg.append("circle").attr("cx", 127.5).attr("cy", rows[1]).attr("r", 3.4).attr("fill", "red").attr("fill-opacity", 0.5);
lg.append("rect").attr("x", 124.2).attr("y", rows[2] - 3.3).attr("width", 6.6).attr("height", 6.6).attr("fill", "blue").attr("fill-opacity", 0.5);
lg.append("path").attr("transform", `translate(127.5,${rows[3]})`).attr("d", diamond).attr("fill", "green").attr("fill-opacity", 0.6);
seriesNames.forEach((n, i) => {
  lg.append("text").attr("x", 162).attr("y", rows[i]).attr("dy", "0.36em")
    .style("font-size", "18px").attr("fill", "#111").text(n);
});
</script>
</body></html>
